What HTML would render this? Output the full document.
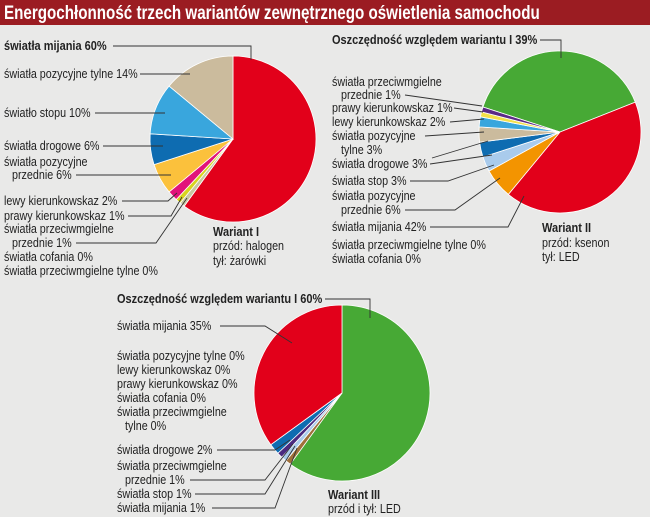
<!DOCTYPE html>
<html><head><meta charset="utf-8"><style>
html,body{margin:0;padding:0;background:#e9e9e8;}
svg{display:block;}
text{font-family:"Liberation Sans",sans-serif;font-size:12.5px;fill:#222;}
.b{font-weight:bold;}
</style></head><body>
<svg id="s" width="650" height="517" viewBox="0 0 650 517" xmlns="http://www.w3.org/2000/svg">
<rect width="650" height="517" fill="#e9e9e8"/>
<rect width="650" height="25" fill="#9b1c22"/>
<text x="4" y="19" data-s="0.80" style="font-size:19px;font-weight:bold;fill:#fff">Energochłonność trzech wariantów  zewnętrznego oświetlenia samochodu</text>
<g id="pies"></g>
<g stroke="#333" stroke-width="0.9" fill="none">
<polyline points="113,46 251,46 251,60"/>
<line x1="140" y1="74" x2="190" y2="74"/>
<line x1="95" y1="113" x2="165" y2="113"/>
<line x1="103" y1="146" x2="163" y2="146"/>
<line x1="76" y1="175" x2="171" y2="175"/>
<polyline points="122,201 168,201 177,193"/>
<polyline points="128,216 171,216 182,197"/>
<polyline points="76,243 156,243 187,198"/>

<polyline points="540,40 561,40 561,58"/>
<line x1="405" y1="95" x2="482" y2="106"/>
<line x1="454" y1="108" x2="483" y2="112"/>
<line x1="450" y1="122" x2="484" y2="119"/>
<line x1="425" y1="136" x2="484" y2="132"/>
<line x1="432" y1="158" x2="488" y2="141"/>
<line x1="430" y1="164" x2="492" y2="155"/>
<polyline points="410,181 448,181 494,165"/>
<polyline points="405,210 455,210 500,178"/>
<polyline points="430,227 508,227 524,196"/>

<polyline points="325,299 370,299 370,318"/>
<polyline points="220,326 265,326 292,343"/>
<polyline points="217,450 275,450 290,440"/>
<polyline points="190,480 265,480 293,444"/>
<polyline points="195,494 265,494 295,446"/>
<polyline points="212,508 275,508 297,448"/>
</g>
<g>
<text x="4" y="50" class="b">światła mijania 60%</text>
<text x="4" y="78">światła pozycyjne tylne 14%</text>
<text x="4" y="117">światło stopu 10%</text>
<text x="4" y="150">światła drogowe 6%</text>
<text x="4" y="166">światła pozycyjne</text>
<text x="12" y="179">przednie 6%</text>
<text x="4" y="205">lewy kierunkowskaz 2%</text>
<text x="4" y="220">prawy kierunkowskaz 1%</text>
<text x="4" y="233">światła przeciwmgielne</text>
<text x="12" y="247">przednie 1%</text>
<text x="4" y="261">światła cofania 0%</text>
<text x="4" y="275">światła przeciwmgielne tylne 0%</text>
<text x="213" y="236" class="b">Wariant I</text>
<text x="213" y="250">przód: halogen</text>
<text x="213" y="265">tył: żarówki</text>

<text x="332" y="44" class="b">Oszczędność względem wariantu I 39%</text>
<text x="332" y="86">światła przeciwmgielne</text>
<text x="341" y="99">przednie 1%</text>
<text x="332" y="112">prawy kierunkowskaz 1%</text>
<text x="332" y="126">lewy kierunkowskaz 2%</text>
<text x="332" y="140">światła pozycyjne</text>
<text x="341" y="154">tylne 3%</text>
<text x="332" y="168">światła drogowe 3%</text>
<text x="332" y="185">światła stop 3%</text>
<text x="332" y="200">światła pozycyjne</text>
<text x="341" y="214">przednie 6%</text>
<text x="332" y="231">światła mijania 42%</text>
<text x="332" y="249">światła przeciwmgielne tylne 0%</text>
<text x="332" y="263">światła cofania 0%</text>
<text x="542" y="232" class="b">Wariant II</text>
<text x="542" y="247">przód: ksenon</text>
<text x="542" y="261">tył: LED</text>

<text x="117" y="303" class="b">Oszczędność względem wariantu I 60%</text>
<text x="117" y="330">światła mijania 35%</text>
<text x="117" y="360">światła pozycyjne tylne 0%</text>
<text x="117" y="374">lewy kierunkowskaz 0%</text>
<text x="117" y="388">prawy kierunkowskaz 0%</text>
<text x="117" y="402">światła cofania 0%</text>
<text x="117" y="416">światła przeciwmgielne</text>
<text x="125" y="430">tylne 0%</text>
<text x="117" y="454">światła drogowe 2%</text>
<text x="117" y="470">światła przeciwmgielne</text>
<text x="125" y="484">przednie 1%</text>
<text x="117" y="498">światła stop 1%</text>
<text x="117" y="512">światła mijania 1%</text>
<text x="328" y="499" class="b">Wariant III</text>
<text x="328" y="513">przód i tył: LED</text>
</g>
</svg>
<script>
function pie(cx,cy,r,start,sl){
 var g=document.getElementById('pies'),a=start,s='';
 sl.forEach(function(d){
  var a2=a+d[0]*3.6;
  var t1=(a-90)*Math.PI/180,t2=(a2-90)*Math.PI/180;
  var x1=cx+r*Math.cos(t1),y1=cy+r*Math.sin(t1),x2=cx+r*Math.cos(t2),y2=cy+r*Math.sin(t2);
  var large=(a2-a)>180?1:0;
  s+='<path d="M'+cx+','+cy+' L'+x1.toFixed(2)+','+y1.toFixed(2)+' A'+r+','+r+' 0 '+large+' 1 '+x2.toFixed(2)+','+y2.toFixed(2)+' Z" fill="'+d[1]+'" stroke="#fff" stroke-width="0.8"/>';
  a=a2;
 });
 g.innerHTML+=s;
}
pie(233,139,83,0,[[60,'#e2001a'],[1,'#c8c8a0'],[1,'#d8d41e'],[2,'#e2137a'],[6,'#fbc13c'],[6,'#0e6cb1'],[10,'#39a6dd'],[14,'#cbbb9d']]);
pie(560,132,81,-72,[[39,'#47a935'],[42,'#e2001a'],[6,'#f39400'],[3,'#a9cbec'],[3,'#0e6cb1'],[3,'#cbbb9d'],[2,'#39a6dd'],[1,'#f4e04a'],[1,'#5b2a86']]);
pie(342,393,88,0,[[60,'#47a935'],[1,'#a0703a'],[1,'#a9cbec'],[1,'#4a2a80'],[2,'#0e6cb1'],[35,'#e2001a']]);
document.querySelectorAll('text').forEach(function(t){
 var x=parseFloat(t.getAttribute('x'));
 var s=t.getAttribute('data-s')||(t.classList.contains('b')?'0.88':'0.86');
 t.setAttribute('transform','translate('+x+',0) scale('+s+',1) translate('+(-x)+',0)');
});
</script>
</body></html>
